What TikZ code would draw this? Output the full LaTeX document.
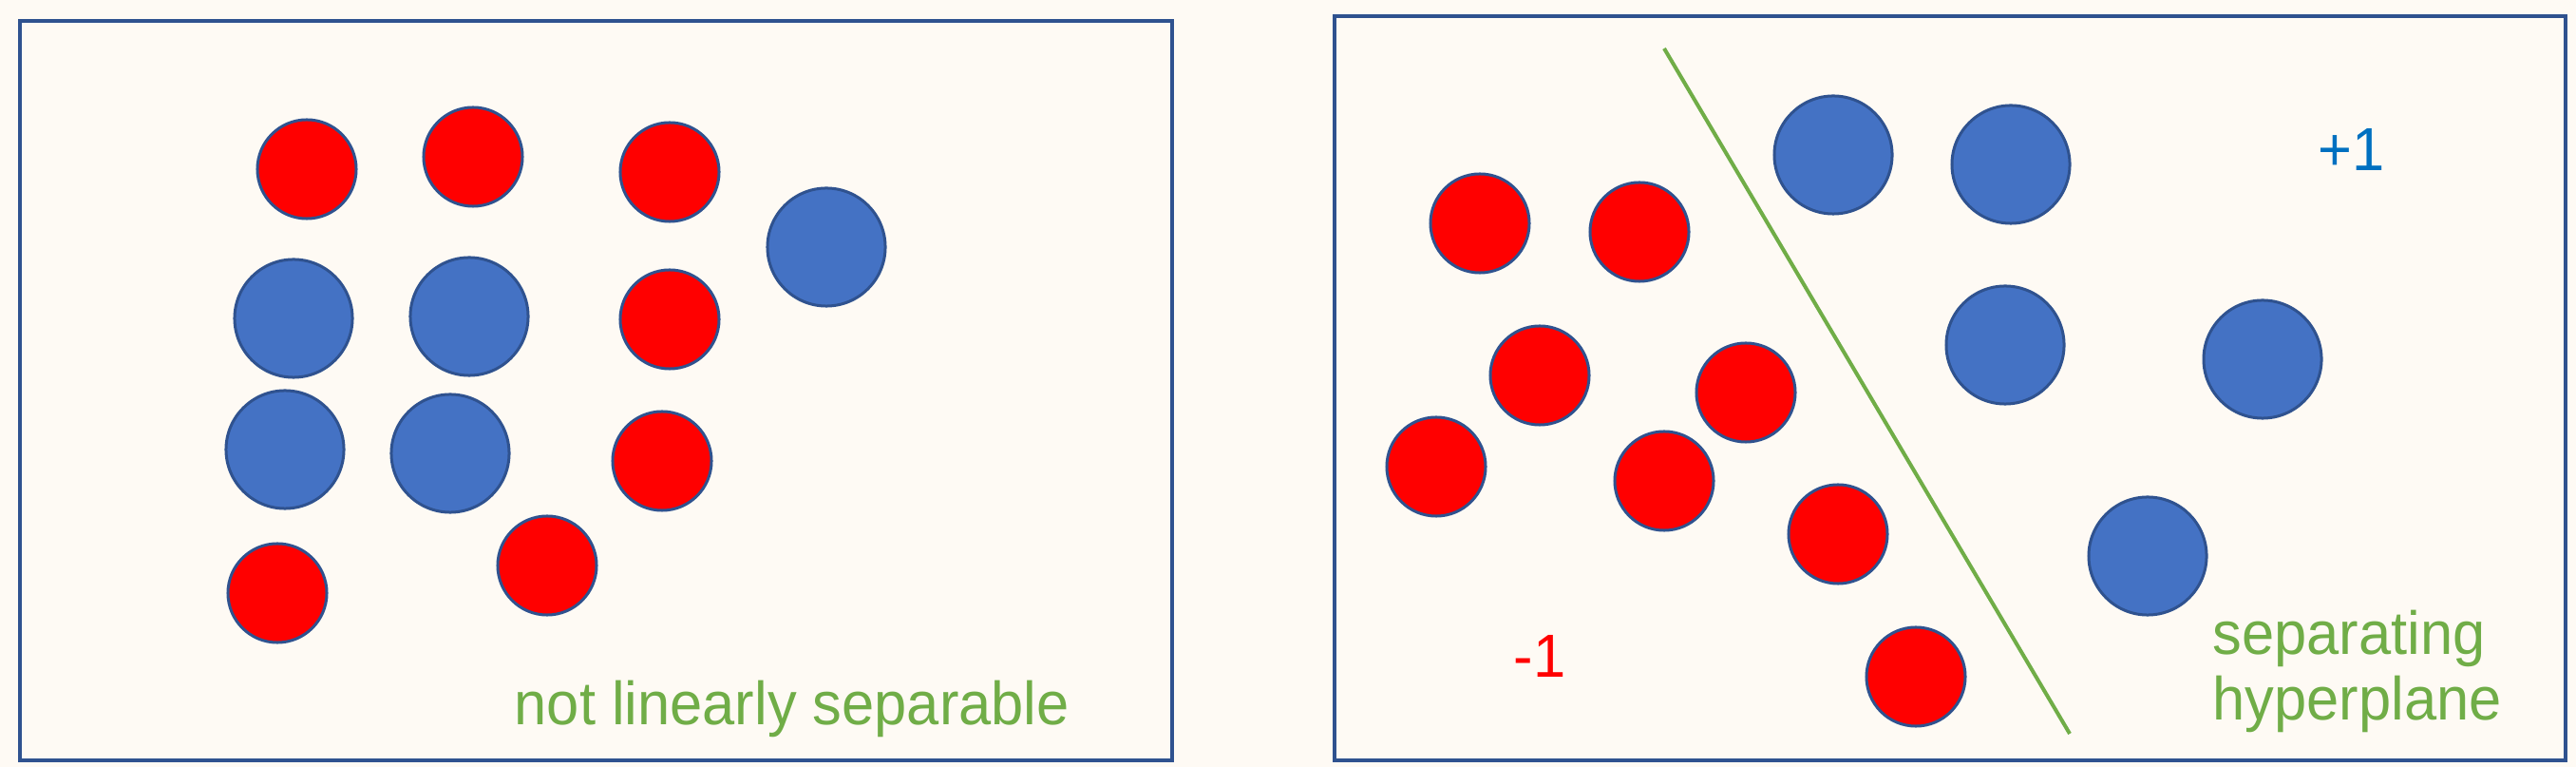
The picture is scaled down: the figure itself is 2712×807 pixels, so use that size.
\documentclass[tikz,border=0pt]{standalone}
\usepackage{fontspec}
\setmainfont{Liberation Sans}
\newfontfamily\lblfont[FakeStretch=0.96]{Liberation Sans}
\definecolor{bgcream}{HTML}{FEFAF4}
\definecolor{boxblue}{HTML}{2F528F}
\definecolor{dotblue}{HTML}{4472C4}
\definecolor{dotred}{HTML}{FF0000}
\definecolor{lblgreen}{HTML}{70AD47}
\definecolor{lblblue}{HTML}{0070C0}
\begin{document}
\begin{tikzpicture}[x=0.01cm,y=-0.01cm,
  panel/.style={draw=boxblue,line width=4*0.2845pt},
  reddot/.style={circle,fill=dotred,draw=boxblue,line width=3*0.2845pt,minimum size=104*0.2845pt,inner sep=0pt},
  bluedot/.style={circle,fill=dotblue,draw=boxblue,line width=3*0.2845pt,minimum size=124*0.2845pt,inner sep=0pt},
  lbl/.style={font=\lblfont\fontsize{18.2}{19.9}\selectfont,inner sep=0pt,anchor=base west,align=left},
  sepline/.style={draw=lblgreen,line width=4*0.2845pt}]
\fill[bgcream] (0,0) rectangle (2712,807);
\useasboundingbox (0,0) rectangle (2712,807);
% panels
\draw[panel] (21,22) rectangle (1234,800);
\draw[panel] (1405,17) rectangle (2701,800);
% left panel dots
\node[reddot] (l1) at (323,178) {};
\node[reddot] (l2) at (498,165) {};
\node[reddot] (l3) at (705,181) {};
\node[bluedot] (l4) at (870,260) {};
\node[bluedot] (l5) at (309,335) {};
\node[bluedot] (l6) at (494,333) {};
\node[reddot] (l7) at (705,336) {};
\node[bluedot] (l8) at (300,473) {};
\node[bluedot] (l9) at (474,477) {};
\node[reddot] (l10) at (697,485) {};
\node[reddot] (l11) at (292,624) {};
\node[reddot] (l12) at (576,595) {};
\node[lbl,text=lblgreen] (nls) at (541,763) {not linearly separable};
% right panel
\coordinate (hA) at (1752,51);
\coordinate (hB) at (2179,772);
\draw[sepline] (hA) -- (hB);
\node[bluedot] (b1) at (1930,163) {};
\node[bluedot] (b2) at (2117,173) {};
\node[bluedot] (b3) at (2111,363) {};
\node[bluedot] (b4) at (2382,378) {};
\node[bluedot] (b5) at (2261,585) {};
\node[reddot] (r1) at (1558,235) {};
\node[reddot] (r2) at (1726,244) {};
\node[reddot] (r3) at (1621,395) {};
\node[reddot] (r4) at (1838,413) {};
\node[reddot] (r5) at (1512,491) {};
\node[reddot] (r6) at (1752,506) {};
\node[reddot] (r7) at (1935,562) {};
\node[reddot] (r8) at (2017,712) {};
\node[lbl,text=lblblue] (plus) at (2440,180) {+1};
\node[lbl,text=dotred] (minus) at (1593,713) {-1};
\node[lbl,text=lblgreen] (sep) at (2329,758) {separating\\hyperplane};
\end{tikzpicture}
\end{document}
